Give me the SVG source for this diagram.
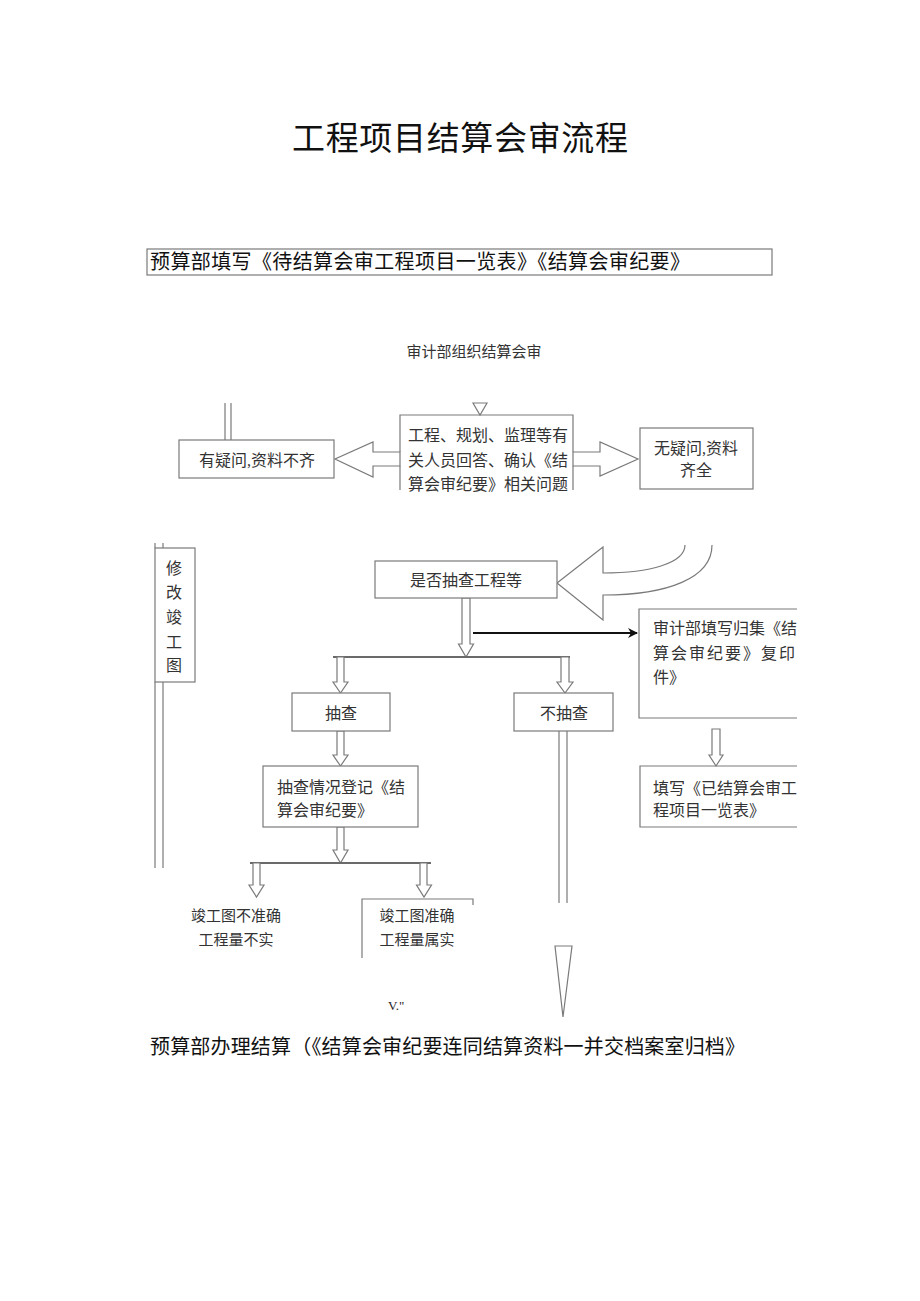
<svg xmlns="http://www.w3.org/2000/svg" width="920" height="1301" viewBox="0 0 920 1301">
<style>
text{font-family:"Liberation Serif","Noto Sans CJK SC",serif;fill:#333}
.t{font-size:16px}
.s{font-size:15px}
.big{font-size:20px;fill:#111}
.title{font-size:33px;fill:#111}
.m{text-anchor:middle}
.box{fill:#fff;stroke:#7a7a7a;stroke-width:1.2}
.ln{fill:none;stroke:#7a7a7a;stroke-width:1.2}
.ha{fill:#fff;stroke:#7a7a7a;stroke-width:1.2;stroke-linejoin:miter}
.bar{fill:none;stroke:#6a6a6a;stroke-width:2}
</style>
<defs>
<marker id="blk" viewBox="0 0 10 10" refX="9" refY="5" markerWidth="10" markerHeight="10" markerUnits="userSpaceOnUse" orient="auto">
<path d="M0,0 L10,5 L0,10 L3,5 z" fill="#111"/>
</marker>
</defs>
<rect width="920" height="1301" fill="#fff"/>

<g id="title"><text class="title m" x="460" y="150" textLength="336" lengthAdjust="spacing">工程项目结算会审流程</text></g>

<g id="n-start">
<rect class="box" x="147" y="249" width="625" height="26"/>
<text class="big" x="150" y="269" textLength="540" lengthAdjust="spacing">预算部填写《待结算会审工程项目一览表》《结算会审纪要》</text>
</g>

<g id="n-organize"><text class="s m" x="474" y="357">审计部组织结算会审</text></g>

<g id="connectors">
<polygon class="ha" points="473,403 487,403 480,415"/>
<line class="ln" x1="225" y1="403" x2="225" y2="440"/>
<line class="ln" x1="231" y1="403" x2="231" y2="440"/>
<polygon class="ha" points="400,452 373,452 373,442 335,459 373,477 373,466 400,466"/>
<polygon class="ha" points="573,452 600,452 600,442 638,459 600,476 600,466 573,466"/>
<path class="ha" d="M685,545 C685,563 650,573 603,573 L603,547 L557,583 L603,620 L603,595 C668,595 712,578 712,545"/>
<polygon class="ha" points="462,598 470,598 470,644 473.5,644 466,657 458.5,644 462,644"/>
<line x1="473" y1="633" x2="637" y2="633" stroke="#111" stroke-width="1.8" marker-end="url(#blk)"/>
<line class="bar" x1="333" y1="657" x2="570" y2="657"/>
<polygon class="ha" points="337,657 344,657 344,682 348,682 340.5,693 333,682 337,682"/>
<polygon class="ha" points="561,657 569,657 569,682 573,682 565,693 557,682 561,682"/>
<polygon class="ha" points="337,731 344,731 344,755 348,755 340.5,766 333,755 337,755"/>
<polygon class="ha" points="337,827 344,827 344,850 348,850 340.5,863 333,850 337,850"/>
<line class="bar" x1="250" y1="863" x2="431" y2="863"/>
<polygon class="ha" points="253,863 260,863 260,885 264,885 256.5,897 249,885 253,885"/>
<polygon class="ha" points="420,863 427,863 427,885 431.5,885 424,897 416.5,885 420,885"/>
<polygon class="ha" points="712,729 720,729 720,755 723,755 716,766 709,755 712,755"/>
<line class="ln" x1="559" y1="731" x2="559" y2="903"/>
<line class="ln" x1="567" y1="731" x2="567" y2="903"/>
<line class="ln" x1="155" y1="682" x2="155" y2="868"/>
<line class="ln" x1="163" y1="682" x2="163" y2="868"/>
<line class="ln" x1="155" y1="543" x2="155" y2="548"/>
<line class="ln" x1="163" y1="543" x2="163" y2="548"/>
<polygon class="ha" points="555,946 572,946 563,1017"/>
</g>

<g id="n-main">
<path class="ln" d="M400,490 V466 M400,452 V415 H573 V452 M573,466 V490"/>
<text class="t" x="408" y="441">工程、规划、监理等有</text>
<text class="t" x="408" y="466">关人员回答、确认《结</text>
<text class="t" x="408" y="490">算会审纪要》相关问题</text>
</g>

<g id="n-doubt">
<rect class="box" x="179" y="440" width="155" height="38"/>
<text class="t m" x="257" y="466">有疑问,资料不齐</text>
</g>

<g id="n-nodoubt">
<rect class="box" x="640" y="428" width="113" height="61"/>
<text class="t m" x="696" y="454">无疑问,资料</text>
<text class="t m" x="696" y="476">齐全</text>
</g>

<g id="n-modify">
<rect class="box" x="155" y="548" width="40" height="134"/>
<text class="t m" x="174" y="574">修</text>
<text class="t m" x="174" y="598">改</text>
<text class="t m" x="174" y="623">竣</text>
<text class="t m" x="174" y="648">工</text>
<text class="t m" x="174" y="671">图</text>
</g>

<g id="n-check">
<rect class="box" x="375" y="561" width="182" height="37"/>
<text class="t m" x="466" y="586">是否抽查工程等</text>
</g>

<g id="n-copy">
<path class="ln" d="M797,609 H639 V718 H797"/>
<text class="t" x="653" y="634">审计部填写归集《结</text>
<text class="t" x="653" y="659" textLength="142" lengthAdjust="spacing">算会审纪要》复印</text>
<text class="t" x="653" y="683">件》</text>
</g>

<g id="n-sample">
<rect class="box" x="292" y="693" width="98" height="38"/>
<text class="t m" x="341" y="719">抽查</text>
</g>

<g id="n-nosample">
<rect class="box" x="514" y="693" width="99" height="38"/>
<text class="t m" x="564" y="719">不抽查</text>
</g>

<g id="n-record">
<rect class="box" x="263" y="766" width="155" height="61"/>
<text class="t" x="277" y="793">抽查情况登记《结</text>
<text class="t" x="277" y="816">算会审纪要》</text>
</g>

<g id="n-fill">
<path class="ln" d="M797,766 H640 V827 H797"/>
<text class="t" x="653" y="794">填写《已结算会审工</text>
<text class="t" x="653" y="816">程项目一览表》</text>
</g>

<g id="n-inaccurate">
<text class="s m" x="236" y="921">竣工图不准确</text>
<text class="s m" x="236" y="945">工程量不实</text>
</g>

<g id="n-accurate">
<path class="ln" d="M362,958 V899 H473 V905"/>
<text class="s m" x="417" y="921">竣工图准确</text>
<text class="s m" x="417" y="945">工程量属实</text>
</g>

<g id="n-mark"><text x="388" y="1010" style="font-size:13px;fill:#222">V."</text></g>

<g id="n-end">
<text class="big" x="150" y="1054" textLength="595" lengthAdjust="spacing">预算部办理结算（《结算会审纪要连同结算资料一并交档案室归档》</text>
</g>
</svg>
